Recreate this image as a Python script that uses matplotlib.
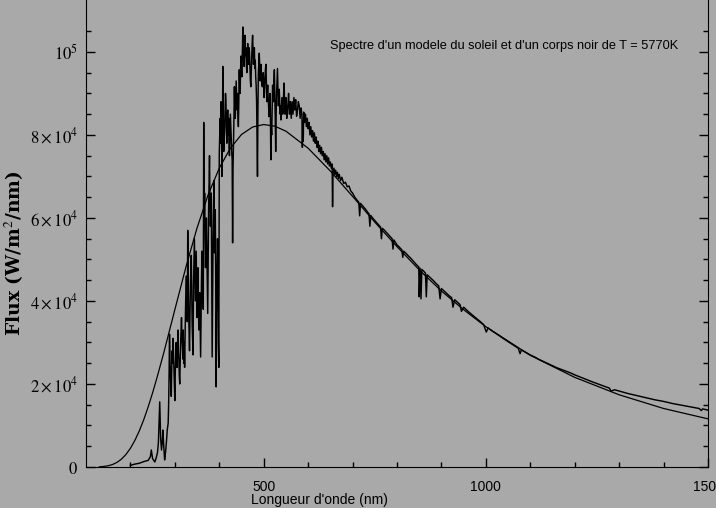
import matplotlib
matplotlib.use("Agg")
import matplotlib.pyplot as plt
from matplotlib.ticker import FixedLocator

# corps noir T = 5770K
bb_nm = [130, 140, 150, 160, 170, 180, 190, 200, 210, 220, 230, 240, 250, 260,
         275, 300, 325, 350, 375, 400, 425, 450, 475, 500, 525, 550, 600, 650,
         700, 750, 800, 850, 900, 950, 1000, 1100, 1200, 1300, 1400, 1500]
bb_flux = [50, 130, 300, 610, 1130, 1910, 3030, 4510, 6400, 8700, 11400,
           14500, 17900, 21600, 27500, 37900, 48200, 57600, 65600, 72000,
           76800, 80100, 81900, 82500, 82100, 80900, 76800, 71300, 65200,
           59000, 53100, 47500, 42400, 37900, 33800, 26900, 21600, 17400,
           14100, 11600]

# spectre du modele solaire, partie UV
uv_nm = [200, 210, 220, 230, 240, 245, 247, 250, 255, 258, 261, 263, 265, 266,
         267, 268, 270, 272, 273, 275, 277, 279, 281, 283, 285]
uv_flux = [400, 700, 900, 1300, 1600, 2500, 4100, 2000, 1200, 2200, 3500,
           6000, 12000, 15700, 11000, 7000, 4100, 6500, 8900, 5000, 1700,
           3500, 6000, 9000, 10600]

# partie dense 286-560 nm, un point par nm
dense_start = 286
dense_flux = [
    15000, 22000, 32000, 26000, 22000, 19000, 17000, 24000, 28000, 25000,
    31000, 27000, 22000, 19000, 16000, 23000, 27000, 30000, 26000, 24000,
    29000, 33000, 28000, 26000, 22000, 20000, 25000, 30000, 33000, 36000,
    31000, 29000, 26000, 33000, 25000, 30000, 24000, 31000, 38000, 43000,
    46000, 40000, 35000, 57000, 45000, 38000, 33000, 28000, 36000, 44000,
    48000, 51000, 42000, 34000, 30000, 27000, 44000, 49000, 55000, 47000,
    40000, 46000, 52000, 43000, 36000, 41000, 48000, 39000, 33000, 38000,
    42000, 35000, 26500, 37000, 45000, 52000, 50000, 44000, 38000, 83000,
    58000, 66000, 55000, 48000, 53000, 60000, 52000, 45000, 37000, 50000,
    62000, 68000, 75000, 64000, 58000, 61000, 66000, 48000, 26500, 42000,
    55000, 63000, 69000, 51600, 57000, 62000, 45000, 19300, 36000, 48000,
    55000, 50000, 30000, 24000, 75700, 80000, 84000, 78000, 88000, 82000,
    70000, 79000, 96500, 85000, 76000, 79000, 81000, 86000, 90000, 88000,
    82000, 78000, 83000, 86000, 80000, 84000, 77000, 75000, 80000, 85000,
    82000, 79000, 76000, 74000, 54000, 72000, 78000, 84000, 91600, 86000,
    84000, 88000, 93000, 89000, 86000, 90000, 85000, 82000, 88000, 95700,
    91000, 90000, 96000, 99000, 95000, 94000, 100000, 106000, 101000, 98000,
    96500, 100000, 104000, 99000, 101000, 97000, 95000, 99000, 102000, 98000,
    97000, 101000, 100000, 96000, 93000, 91600, 95000, 99000, 102000, 104000,
    100000, 97000, 99000, 101000, 96000, 98000, 94000, 92000, 88000, 79600,
    70000, 86000, 95000, 97000, 99700, 96000, 93000, 95000, 97000, 94000,
    92000, 91600, 94000, 95000, 92000, 89000, 91000, 94000, 96000, 97000,
    93000, 88000, 90000, 92000, 89000, 87000, 84400, 88000, 90000, 86000,
    74000, 82000, 80000, 86000, 92000, 90000, 88000, 93000, 95700, 90000,
    84000, 76000, 85000, 90000, 93000, 96000, 91000, 87000, 89000, 91000,
    88000, 85000, 87000, 83600, 86000, 89000, 87000, 85000, 88000, 90000,
    92500, 88000, 85000, 87000, 89000, 86000, 84000, 85000, 86800, 88000,
    90000, 87000, 85000, 86000, 88000]

# partie visible et infrarouge 562-1500 nm
ir_nm = [
    562, 564, 566, 568, 570, 572, 574, 576, 578, 580, 582, 584, 586, 587, 588,
    589, 590, 592, 594, 596, 598, 600, 602, 604, 606, 608, 610, 612, 614, 616,
    618, 620, 622, 624, 626, 628, 630, 632, 634, 636, 638, 640, 642, 644, 646,
    648, 650, 652, 654, 655, 656, 658, 660, 662, 664, 666, 668, 670, 673, 676,
    680, 684, 688, 692, 696, 700, 705, 710, 714, 716, 718, 722, 726, 730, 733,
    737, 739, 741, 745, 750, 755, 760, 763, 765, 767, 772, 777, 782, 789, 791,
    793, 800, 805, 811, 813, 815, 820, 826, 830, 835, 840, 845, 849, 850, 852,
    854, 856, 860, 864, 866, 868, 875, 882, 888, 894, 897, 900, 910, 918, 923,
    926, 930, 936, 942, 945, 950, 961, 970, 980, 990, 995, 1001, 1005, 1015,
    1028, 1040, 1050, 1060, 1073, 1077, 1080, 1090, 1100, 1110, 1120, 1130,
    1140, 1150, 1160, 1170, 1180, 1190, 1200, 1214, 1225, 1240, 1255, 1268,
    1278, 1282, 1290, 1300, 1320, 1340, 1360, 1380, 1400, 1420, 1440, 1460,
    1480, 1485, 1488, 1500]
ir_flux = [
    84000, 88000, 85000, 89000, 86000, 88500, 84500, 86000, 88000, 87000,
    84000, 86500, 85000, 77000, 83000, 78500, 85500, 83000, 85000, 82000,
    84000, 81500, 83000, 80000, 82000, 79500, 81000, 78500, 80500, 78000,
    79500, 77000, 78500, 76000, 77500, 75500, 77000, 75000, 76000, 74000,
    75500, 73500, 75000, 73000, 74500, 72500, 73500, 72000, 73000, 62700,
    71000, 72000, 70500, 71500, 70000, 71000, 69500, 70500, 69000, 69800,
    68300, 68600, 67500, 67700, 66500, 66000, 65000, 64300, 63800, 60500,
    63500, 63000, 62500, 62000, 61500, 61000, 58000, 60600, 60000, 59400,
    58800, 58200, 57800, 55000, 57500, 57000, 56400, 55800, 55000, 52500,
    54700, 53500, 53000, 52300, 50500, 52000, 51500, 50800, 50400, 49800,
    49200, 48600, 48200, 41000, 47900, 40500, 47600, 47200, 46700, 41000,
    46300, 45600, 44900, 44200, 43600, 40500, 43000, 42000, 41200, 40800,
    38500, 40300, 39700, 39100, 37500, 38500, 37400, 36600, 35700, 34800,
    34300, 32500, 33500, 32700, 31800, 30900, 30200, 29500, 28600, 27300,
    28200, 27600, 27000, 26500, 25900, 25400, 24900, 24400, 23900, 23500,
    23100, 22700, 22200, 21600, 21100, 20500, 19900, 19400, 19000, 18300,
    18600, 18300, 17700, 17200, 16700, 16200, 15800, 15300, 14900, 14500,
    14100, 13600, 14000, 13700]

sun_nm = uv_nm + [dense_start + i for i in range(len(dense_flux))] + ir_nm
sun_flux = uv_flux + dense_flux + ir_flux

y_ticks = [0, 20000, 40000, 60000, 80000, 100000]
y_labels = [r'$0$', r'$2\times10^4$', r'$4\times10^4$', r'$6\times10^4$',
            r'$8\times10^4$', r'$10^5$']
x_ticks = [500, 1000, 1500]
x_labels = ['500', '1000', '1500']

plt.rcParams['mathtext.fontset'] = 'stix'
bg = '#a9a9a9'

fig = plt.figure(figsize=(7.16, 5.08), dpi=100, facecolor=bg)
ax = fig.add_axes([0.1201, 0.0807, 0.8687, 0.9193], facecolor=bg)

ax.plot(bb_nm, bb_flux, color='black', lw=0.9)
ax.plot(sun_nm, sun_flux, color='black', lw=1.05)

ax.set_xlim(100, 1500)
ax.set_ylim(0, 112500)

ax.set_yticks(y_ticks)
ax.set_yticklabels(y_labels, fontsize=12)
ax.yaxis.set_minor_locator(FixedLocator(range(5000, 106000, 5000)))
ax.set_xticks(x_ticks)
ax.set_xticklabels(x_labels, fontsize=10, family='Liberation Sans')
ax.xaxis.set_minor_locator(FixedLocator(range(200, 1500, 100)))

ax.tick_params(which='both', direction='in', left=True, right=True,
               top=False, bottom=True, color='black', width=1)
ax.tick_params(which='major', length=6.5)
ax.tick_params(which='minor', length=3.6)
ax.tick_params(axis='y', which='major', pad=6)
ax.tick_params(axis='x', which='major', pad=9)
ax.spines['top'].set_visible(False)

ax.set_xlabel("Longueur d'onde (nm)", fontsize=10, family='Liberation Sans')
ax.xaxis.set_label_coords(0.376, -0.055)
ax.set_ylabel('Flux (W/m$^2$/nm)', fontsize=13.5, family='DejaVu Serif',
              fontweight='bold')
ax.yaxis.set_label_coords(-0.097, 0.458)

ax.text(0.392, 0.9015,
        "Spectre d'un modele du soleil et d'un corps noir de T = 5770K",
        transform=ax.transAxes, fontsize=9.2, family='Liberation Sans',
        ha='left', va='center')

fig.savefig('out.png', dpi=100, facecolor=bg)
